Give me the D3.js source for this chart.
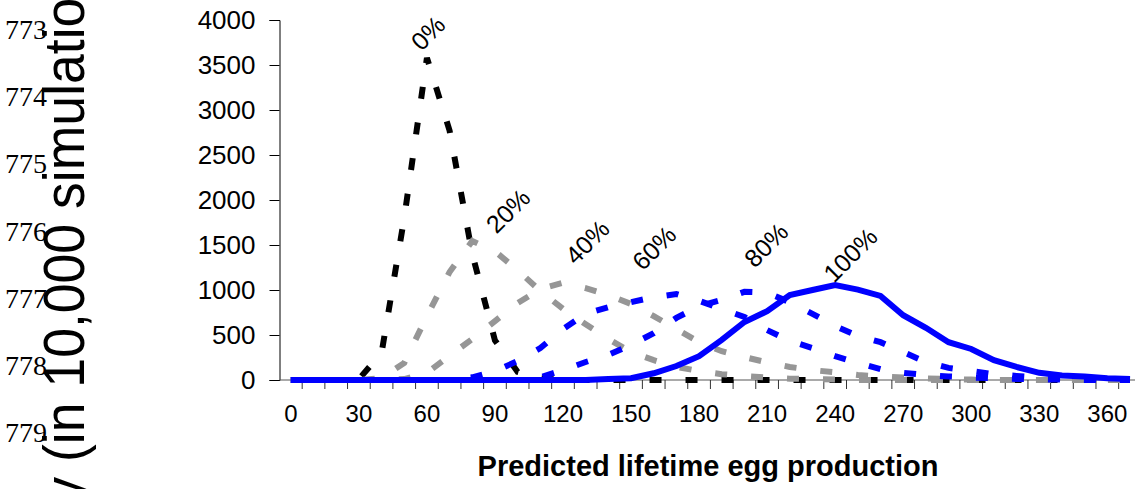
<!DOCTYPE html>
<html lang="en">

<head>
    <meta charset="utf-8">
    <title>Predicted lifetime egg production</title>
    <script type="text/javascript" src="https://d3js.org/d3.v7.min.js"></script>
    <style type="text/css">
        body {
            margin: 0;
            background: #fff;
        }

        svg text {
            font-family: "Liberation Sans", Arial, sans-serif;
        }
    </style>
</head>

<body>
    <svg width="1135" height="489"></svg>
    <script type="text/javascript">
        //Categories on the x axis (egg production, step 10)
        const categories = [0, 10, 20, 30, 40, 50, 60, 70, 80, 90, 100, 110, 120, 130, 140, 150, 160, 170, 180,
            190, 200, 210, 220, 230, 240, 250, 260, 270, 280, 290, 300, 310, 320, 330, 340, 350, 360, 370]
        const xLabels = [0, 30, 60, 90, 120, 150, 180, 210, 240, 270, 300, 330, 360]
        const yTicks = [0, 500, 1000, 1500, 2000, 2500, 3000, 3500, 4000]
        const lineNumbers = ['773', '774', '775', '776', '777', '778', '779']

        //Frequencies, one value per category
        const p0 = [0, 0, 0, 10, 300, 1800, 3580, 2770, 1400, 440, 90, 20, 0, 0, 0, 0, 0, 0, 0,
            0, 0, 0, 0, 0, 0, 0, 0, 0, 0, 0, 0, 0, 0, 0, 0, 0, 0, 0]
        const p20 = [0, 0, 0, 0, 20, 190, 710, 1200, 1545, 1430, 1220, 990, 790, 620, 455, 310, 220, 145, 100,
            65, 45, 28, 15, 10, 5, 0, 0, 0, 0, 0, 0, 0, 0, 0, 0, 0, 0, 0]
        const p40 = [0, 0, 0, 0, 0, 10, 80, 270, 455, 655, 855, 1010, 1080, 1020, 945, 845, 710, 565, 420,
            320, 255, 195, 145, 110, 85, 55, 40, 28, 17, 10, 5, 0, 0, 0, 0, 0, 0, 0]
        const p60 = [0, 0, 0, 0, 0, 0, 0, 0, 30, 100, 210, 355, 565, 735, 810, 865, 920, 955, 880,
            790, 700, 555, 435, 355, 265, 190, 120, 80, 55, 40, 28, 20, 12, 8, 5, 0, 0, 0]
        const p80 = [0, 0, 0, 0, 0, 0, 0, 0, 0, 0, 0, 30, 110, 200, 280, 390, 520, 690, 820,
            890, 980, 970, 865, 735, 600, 490, 420, 310, 200, 135, 100, 65, 45, 28, 15, 10, 5, 0]
        const p100 = [0, 0, 0, 0, 0, 0, 0, 0, 0, 0, 0, 0, 0, 0, 10, 20, 75, 155, 265,
            445, 645, 765, 945, 1000, 1055, 1005, 935, 720, 580, 420, 345, 220, 145, 80, 50, 40, 20, 10]

        const seriesNames = ['0%', '20%', '40%', '60%', '80%', '100%']
        const seriesValues = [p0, p20, p40, p60, p80, p100]

        //Where each percent label sits, in chart units (egg count, frequency)
        const labelEgg = [60.5, 95.8, 130.7, 160.2, 209.6, 246.7]
        const labelFreq = [3855, 1878, 1533, 1467, 1500, 1389]

        //Constants necessary throughout code
        const svg = d3.select("svg");
        const step = 22.68
        const plotLeft = 279.5
        const plotTop = 20
        const plotBottom = 380

        const styles = [
            { color: '#000000', dash: '12,24' },
            { color: '#969696', dash: '12,24' },
            { color: '#969696', dash: '12,24' },
            { color: '#0000ff', dash: '12,24' },
            { color: '#0000ff', dash: '12,24' },
            { color: '#0000ff', dash: null }
        ]

        //Scales
        const xScale = d3.scaleBand()
            .domain(categories)
            .range([plotLeft, plotLeft + step * categories.length])
            .padding(0);

        const cx = c => xScale(c) + xScale.bandwidth() / 2

        //Continuous version of the category axis, for label placement
        const xEgg = d3.scaleLinear()
            .domain([0, 370])
            .range([cx(0), cx(370)]);

        const yScale = d3.scaleLinear()
            .domain([0, 4000])
            .range([plotBottom, plotTop]);

        //Manuscript line numbers on the left edge
        svg.append('g')
            .selectAll('text')
            .data(lineNumbers)
            .enter()
            .append('text')
            .attr('x', 5)
            .attr('y', (d, i) => 39 + i * 67.2)
            .style('font-family', '"Liberation Serif", "Times New Roman", serif')
            .style('font-size', '28px')
            .text(d => d);

        //Big y axis title (clipped by the page edge)
        svg.append('text')
            .attr('transform', 'translate(84,730) rotate(-90) scale(0.94,1)')
            .style('font-size', '57px')
            .text('Frequency (in 10,000 simulations)');

        //Y axis
        const leftAxis = d3.axisLeft(yScale)
            .tickValues(yTicks)
            .tickFormat(d3.format('d'))
            .tickSize(10)
            .tickPadding(14);

        svg.append('g')
            .attr('transform', 'translate(' + plotLeft + ',0)')
            .call(leftAxis)
            .call(g => g.select('.domain').attr('stroke', '#000'))
            .call(g => g.selectAll('.tick text')
                .style('font-size', '26px')
                .style('font-family', '"Liberation Sans", Arial, sans-serif')
                .attr('fill', '#000'));

        //X axis: labels every third category, ticks between categories
        const bottomAxis = d3.axisBottom(xScale)
            .tickValues(xLabels)
            .tickSize(0)
            .tickPadding(25);

        svg.append('g')
            .attr('transform', 'translate(0,' + plotBottom + ')')
            .call(bottomAxis)
            .call(g => g.select('.domain').attr('d', 'M' + plotLeft + ',0H1135').attr('stroke', '#555'))
            .call(g => g.selectAll('.tick text')
                .style('font-size', '24px')
                .style('font-family', '"Liberation Sans", Arial, sans-serif')
                .attr('fill', '#000'));

        svg.append('g')
            .selectAll('line')
            .data(categories.slice(1))
            .enter()
            .append('line')
            .attr('x1', d => xScale(d))
            .attr('x2', d => xScale(d))
            .attr('y1', plotBottom)
            .attr('y2', plotBottom + 9)
            .attr('stroke', '#333')
            .attr('stroke-width', 1);

        //X axis title
        svg.append('text')
            .attr('x', 708)
            .attr('y', 476)
            .attr('text-anchor', 'middle')
            .style('font-size', '29px')
            .style('font-weight', 'bold')
            .text('Predicted lifetime egg production');

        //Draw the six lines
        const line = d3.line()
            .x((d, i) => cx(categories[i]))
            .y(d => yScale(d));

        svg.append('g')
            .selectAll('path')
            .data(seriesValues)
            .enter()
            .append('path')
            .attr('d', line)
            .attr('fill', 'none')
            .attr('stroke', (d, i) => styles[i].color)
            .attr('stroke-width', 6)
            .attr('stroke-dasharray', (d, i) => styles[i].dash);

        //Percent labels near each peak
        svg.append('g')
            .selectAll('text')
            .data(seriesNames)
            .enter()
            .append('text')
            .attr('transform', (d, i) =>
                'translate(' + xEgg(labelEgg[i]) + ',' + yScale(labelFreq[i]) + ') rotate(-45)')
            .attr('text-anchor', 'middle')
            .attr('dy', '0.35em')
            .style('font-size', '25px')
            .text(d => d);
    </script>
</body>

</html>
